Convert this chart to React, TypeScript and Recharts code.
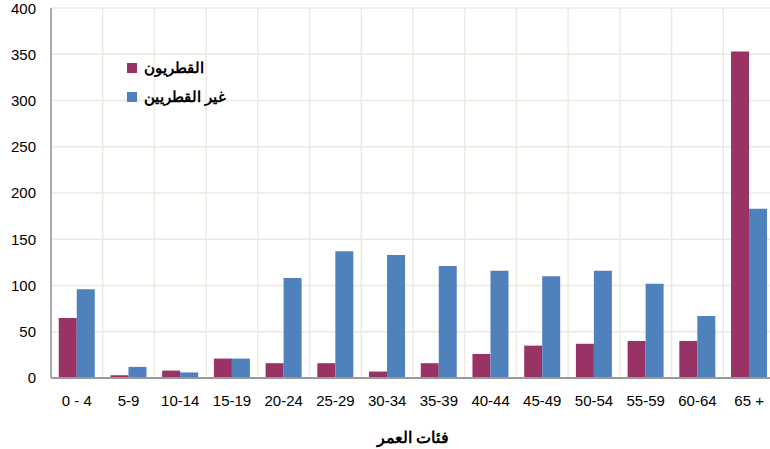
import { BarChart, Bar, XAxis, YAxis, CartesianGrid, Legend } from 'recharts';

const ageGroups = ['0 - 4', '5-9', '10-14', '15-19', '20-24', '25-29', '30-34', '35-39', '40-44', '45-49', '50-54', '55-59', '60-64', '65 +'];
const qataris = [65, 3, 8, 21, 16, 16, 7, 16, 26, 35, 37, 40, 40, 353];
const nonQataris = [96, 12, 6, 21, 108, 137, 133, 121, 116, 110, 116, 102, 67, 183];
const yTicks = [0, 50, 100, 150, 200, 250, 300, 350, 400];

const QATARI = '#993366';
const NON_QATARI = '#4F81BD';
const FONT = '"Liberation Sans", Arial, sans-serif';

const data = ageGroups.map((g, i) => ({ group: g, qatari: qataris[i], nonQatari: nonQataris[i] }));

const legendItems = [
  { label: 'القطريون', color: QATARI },
  { label: 'غير القطريين', color: NON_QATARI },
];

const renderLegend = () => (
  <div style={{ fontFamily: FONT }}>
    {legendItems.map((item) => (
      <div key={item.label} style={{ display: 'flex', alignItems: 'center', height: 29 }}>
        <span style={{ width: 10, height: 10, background: item.color, marginRight: 7, display: 'inline-block' }} />
        <span style={{ fontSize: 15, fontWeight: 'bold', color: '#000' }}>{item.label}</span>
      </div>
    ))}
  </div>
);

export default function App() {
  return (
    <div style={{ position: 'absolute', left: 0, top: 0, width: 770, height: 449, overflow: 'hidden', background: '#fff' }}>
      <BarChart
        width={776}
        height={449}
        data={data}
        margin={{ top: 8, right: 1, bottom: 0, left: 0 }}
        barCategoryGap="15%"
        barGap={0}
      >
        <CartesianGrid
          stroke="#ECEAE0"
          strokeWidth={1.5}
          verticalCoordinatesGenerator={({ offset }: any) =>
            ageGroups.map((_, i) => offset.left + (i * offset.width) / ageGroups.length)
          }
        />
        <XAxis
          dataKey="group"
          height={71}
          tickLine={false}
          tickSize={0}
          tickMargin={17}
          stroke="#999"
          strokeWidth={2}
          tick={{ fill: '#000', fontSize: 15, fontFamily: FONT }}
          interval={0}
          label={{ value: 'فئات العمر', position: 'insideBottom', offset: 6, fill: '#000', fontSize: 16, fontWeight: 'bold', fontFamily: FONT }}
        />
        <YAxis
          width={51}
          domain={[0, 400]}
          ticks={yTicks}
          tickLine={false}
          tickSize={0}
          tickMargin={15}
          stroke="#AAA"
          strokeWidth={2}
          tick={{ fill: '#000', fontSize: 15, fontFamily: FONT }}
        />
        <Legend
          content={renderLegend}
          layout="vertical"
          align="center"
          verticalAlign="middle"
          wrapperStyle={{ position: 'absolute', left: 127, top: 53, width: 'auto' }}
        />
        <Bar dataKey="qatari" fill={QATARI} isAnimationActive={false} />
        <Bar dataKey="nonQatari" fill={NON_QATARI} isAnimationActive={false} />
      </BarChart>
    </div>
  );
}
